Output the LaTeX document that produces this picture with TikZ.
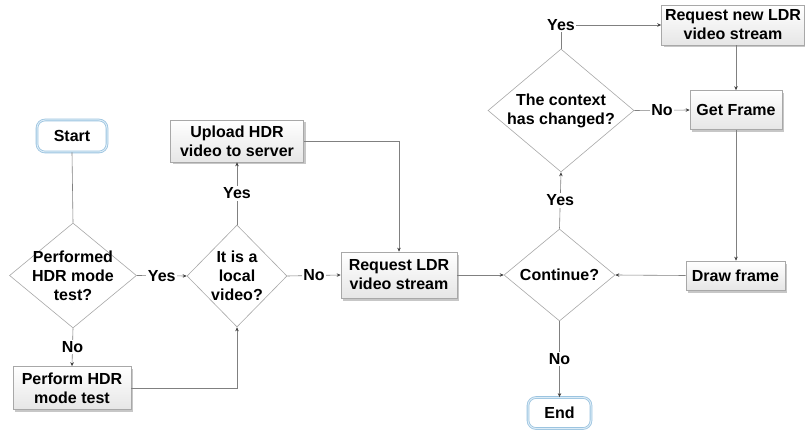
\documentclass[tikz,border=0pt]{standalone}
\usepackage{fontspec}
\setmainfont{Liberation Sans}
\usetikzlibrary{shapes.geometric,shadows,arrows.meta}
\definecolor{linegray}{HTML}{808080}
\definecolor{boxgray}{HTML}{A8A8A8}
\definecolor{boxfill}{HTML}{E6E6E6}
\definecolor{termblue}{HTML}{9CC4E0}
\definecolor{termlight}{HTML}{DCECF7}
\begin{document}
\begin{tikzpicture}[x=1pt,y=-1pt,
  font=\fontsize{16}{19}\selectfont\bfseries,
  procbox/.style={draw=boxgray, line width=0.6pt, top color=white, bottom color=boxfill,
    drop shadow={shadow xshift=2pt, shadow yshift=-2.5pt, fill=black!40, opacity=0.55},
    inner sep=0pt, align=center},
  term/.style={rectangle, rounded corners=8pt, draw=termblue, double=termlight,
    double distance=1pt, line width=0.8pt, fill=white, inner sep=0pt},
  dia/.style={diamond, draw=boxgray, fill=white, line width=0.6pt, inner sep=0pt},
  dtext/.style={align=center, inner sep=0pt},
  plain/.style={draw=linegray, line width=0.6pt},
  conn/.style={draw=linegray, line width=0.6pt, -{Stealth[length=4pt,width=3.5pt,color=black!75]}},
  lbl/.style={fill=white, inner sep=1.5pt}]
\useasboundingbox (0,0) rectangle (805,430);

% terminators
\node[term, minimum width=70pt, minimum height=32pt] (start) at (72,136) {Start};
\node[term, minimum width=63pt, minimum height=31pt] (endn) at (559.5,413) {End};

% process boxes
\node[procbox, minimum width=133pt, minimum height=42pt] (upload) at (237,141) {Upload HDR\\video to server};
\node[procbox, minimum width=118pt, minimum height=43pt] (perform) at (72,388) {Perform HDR\\mode test};
\node[procbox, minimum width=116pt, minimum height=46pt] (reqldr) at (399,275) {Request LDR\\video stream};
\node[procbox, minimum width=143pt, minimum height=40pt] (reqnew) at (733,25) {Request new LDR\\video stream};
\node[procbox, minimum width=92pt, minimum height=39pt] (getframe) at (736,110) {Get Frame};
\node[procbox, minimum width=99pt, minimum height=29pt] (drawfr) at (735.5,275.5) {Draw frame};

% decisions
\node[dia, minimum width=127pt, minimum height=105pt] (d1) at (73,275.5) {};
\node[dtext] (d1t) at (d1) {Performed\\HDR mode\\test?};
\node[dia, minimum width=100pt, minimum height=102pt] (d2) at (237,276) {};
\node[dtext] (d2t) at (d2) {It is a\\local\\video?};
\node[dia, minimum width=111pt, minimum height=92pt] (cont) at (559.5,275) {};
\node[dtext] (contt) at (cont) {Continue?};
\node[dia, minimum width=146pt, minimum height=123pt] (ctx) at (561,110.5) {};
\node[dtext] (ctxt) at (ctx) {The context\\has changed?};

% connectors
\draw[plain] (start.south) -- (d1.north);
\draw[conn] (d1.east) -- node[lbl] {Yes} (d2.west);
\draw[conn] (d1.south) -- node[lbl] {No} (perform.north);
\draw[conn] (perform.east) -| (d2.south);
\draw[conn] (d2.north) -- node[lbl] {Yes} (upload.south);
\draw[conn] (d2.east) -- node[lbl] {No} (reqldr.west);
\draw[conn] (upload.east) -| (reqldr.north);
\draw[conn] (reqldr.east) -- (cont.west);
\draw[conn] (cont.south) -- node[lbl] {No} (endn.north);
\draw[conn] (cont.north) -- node[lbl] {Yes} (ctx.south);
\draw[conn] (ctx.north) |- node[lbl, pos=0.5] {Yes} (reqnew.west);
\draw[conn] (ctx.east) -- node[lbl] {No} (getframe.west);
\draw[conn] (reqnew.south -| getframe.north) -- (getframe.north);
\draw[conn] (getframe.south) -- (getframe.south |- drawfr.north);
\draw[conn] (drawfr.west) -- (cont.east);
\end{tikzpicture}
\end{document}
